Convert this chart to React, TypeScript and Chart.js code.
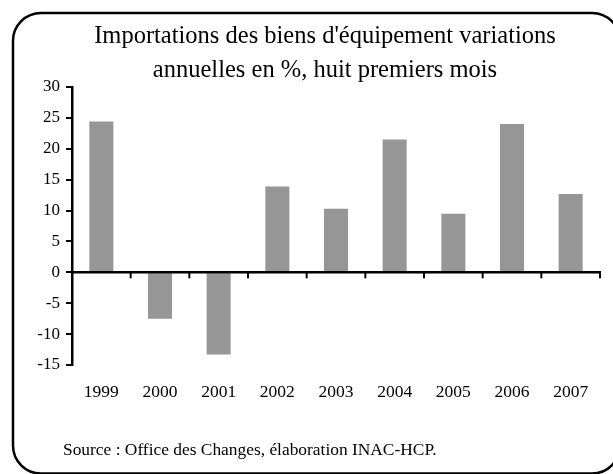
import React, { useEffect, useRef } from "react";
import { Chart, registerables } from "chart.js";

Chart.register(...registerables);

const categories = ["1999", "2000", "2001", "2002", "2003", "2004", "2005", "2006", "2007"];
const values = [24.4, -7.5, -13.3, 13.9, 10.3, 21.5, 9.5, 24.0, 12.7];
const titleLines = ["Importations des biens d'équipement variations", "annuelles en %, huit premiers mois"];
const sourceText = "Source : Office des Changes, élaboration INAC-HCP.";
const yMin = -15;
const yMax = 30;
const yStep = 5;

const FONT = "'Liberation Serif', 'Times New Roman', Times, serif";

const framePlugin = {
  id: "frame",
  beforeDraw(chart: any) {
    const ctx = chart.ctx;
    ctx.save();
    ctx.fillStyle = "#ffffff";
    ctx.fillRect(0, 0, chart.width, chart.height);
    ctx.restore();
  },
  afterDraw(chart: any) {
    const ctx = chart.ctx;
    ctx.save();
    const x0 = 13, y0 = 13, x1 = 620, y1 = 473.5, r = 28;
    ctx.beginPath();
    ctx.moveTo(x0 + r, y0);
    ctx.lineTo(x1 - r, y0);
    ctx.arcTo(x1, y0, x1, y0 + r, r);
    ctx.lineTo(x1, y1 - r);
    ctx.arcTo(x1, y1, x1 - r, y1, r);
    ctx.lineTo(x0 + r, y1);
    ctx.arcTo(x0, y1, x0, y1 - r, r);
    ctx.lineTo(x0, y0 + r);
    ctx.arcTo(x0, y0, x0 + r, y0, r);
    ctx.closePath();
    ctx.lineWidth = 2.5;
    ctx.strokeStyle = "#000";
    ctx.stroke();

    ctx.fillStyle = "#000";
    ctx.font = `24.5px ${FONT}`;
    ctx.textAlign = "center";
    ctx.textBaseline = "alphabetic";
    ctx.fillText(titleLines[0], 325, 43);
    ctx.fillText(titleLines[1], 325, 77);

    ctx.font = `17.4px ${FONT}`;
    ctx.textAlign = "left";
    ctx.fillText(sourceText, 63, 455);
    ctx.restore();
  },
  afterDatasetsDraw(chart: any) {
    const ctx = chart.ctx;
    const xs = chart.scales.x;
    const ys = chart.scales.y;
    const area = chart.chartArea;
    const y0 = ys.getPixelForValue(0);
    ctx.save();
    ctx.strokeStyle = "#000";
    ctx.lineWidth = 2.5;
    ctx.beginPath();
    ctx.moveTo(area.left, y0);
    ctx.lineTo(area.right + 1, y0);
    ctx.stroke();
    ctx.lineWidth = 2;
    const n = categories.length;
    const step = xs.getPixelForValue(1) - xs.getPixelForValue(0);
    for (let i = 0; i <= n; i++) {
      const x = i < n ? xs.getPixelForValue(i) - step / 2 : area.right;
      ctx.beginPath();
      ctx.moveTo(x, y0);
      ctx.lineTo(x, y0 + 6);
      ctx.stroke();
    }
    ctx.restore();
  },
};

export default function App() {
  const ref = useRef<HTMLCanvasElement | null>(null);
  useEffect(() => {
    if (!ref.current) return;
    Chart.defaults.font.family = FONT;
    const chart = new Chart(ref.current, {
      type: "bar",
      data: {
        labels: categories,
        datasets: [
          {
            data: values,
            backgroundColor: "#969696",
            borderWidth: 0,
            barPercentage: 0.41,
            categoryPercentage: 1,
          },
        ],
      },
      options: {
        responsive: false,
        animation: false,
        layout: { padding: { left: 12, right: 13, top: 87, bottom: 69 } },
        plugins: {
          legend: { display: false },
          title: { display: false },
          tooltip: { enabled: false },
        },
        scales: {
          x: {
            type: "category",
            offset: true,
            grid: { display: false, drawTicks: false },
            border: { display: false },
            ticks: { color: "#000", font: { size: 17.5, family: FONT }, padding: 17, maxRotation: 0 },
            afterFit: (s: any) => {
              s.height = 40;
            },
          },
          y: {
            min: yMin,
            max: yMax,
            grid: {
              drawOnChartArea: false,
              drawTicks: true,
              tickLength: 6,
              color: "#000",
              lineWidth: 2,
            },
            border: { display: true, color: "#000", width: 2.5 },
            ticks: { stepSize: yStep, color: "#000", font: { size: 17, family: FONT }, padding: 6 },
            afterFit: (s: any) => {
              s.width = 60;
            },
          },
        },
      },
      plugins: [framePlugin],
    });
    return () => chart.destroy();
  }, []);
  return (
    <div style={{ position: "absolute", left: 0, top: 0, width: 613, height: 474 }}>
      <canvas ref={ref} width={613} height={474} />
    </div>
  );
}
